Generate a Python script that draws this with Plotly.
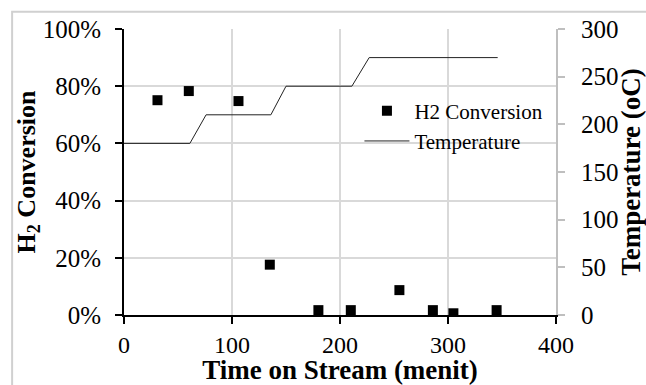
import plotly.graph_objects as go

# Data
conv_time = [31, 60, 106, 135, 180, 210, 255, 286, 305, 345]
conv_vals = [0.751, 0.783, 0.748, 0.176, 0.017, 0.017, 0.087, 0.017, 0.006, 0.017]
temp_time = [0, 61, 76, 136, 150, 211, 227, 346]
temp_vals = [180, 180, 210, 210, 240, 240, 270, 270]

FONT = "Liberation Serif"

fig = go.Figure()
fig.add_trace(go.Scatter(
    x=conv_time, y=conv_vals, mode="markers", name="H2 Conversion",
    marker=dict(symbol="square", size=10, color="black"),
))
fig.add_trace(go.Scatter(
    x=temp_time, y=temp_vals, mode="lines", name="Temperature",
    line=dict(color="#222222", width=1), yaxis="y2",
))

fig.update_layout(
    width=646, height=385,
    margin=dict(l=124, r=90, t=29, b=70, autoexpand=False),
    paper_bgcolor="white", plot_bgcolor="white",
    font=dict(family=FONT, size=25, color="black"),
    showlegend=True,
    legend=dict(x=0.545, y=0.785, xanchor="left", yanchor="top",
                bgcolor="rgba(0,0,0,0)", font=dict(size=21, family=FONT),
                tracegroupgap=0, itemwidth=45),
    xaxis=dict(range=[0, 400], dtick=100, showgrid=True, gridcolor="#d9d9d9",
               gridwidth=2, zeroline=False, showline=True, linecolor="black",
               linewidth=2, ticks="outside", tickcolor="black", ticklen=7,
               tickwidth=2, automargin=False, ticklabelstandoff=0,
               tickfont=dict(size=24),
               title=dict(text="<b>Time on Stream (menit)</b>", standoff=1,
                          font=dict(size=27, family=FONT))),
    yaxis=dict(range=[0, 1], dtick=0.2, tickformat=".0%", showgrid=True,
               gridcolor="#d9d9d9", gridwidth=2, zeroline=False,
               showline=True, linecolor="black", linewidth=2,
               ticks="outside", tickcolor="black", ticklen=7, tickwidth=2,
               automargin=False, ticklabelstandoff=9,
               title=dict(text="<b>H<sub>2</sub> Conversion</b>", standoff=0,
                          font=dict(size=26, family=FONT))),
    yaxis2=dict(range=[0, 300], dtick=50, overlaying="y", side="right",
                showgrid=False, zeroline=False, showline=True,
                linecolor="#bfbfbf", linewidth=2, ticks="outside",
                tickcolor="#bfbfbf", ticklen=7, tickwidth=2,
                automargin=False, ticklabelstandoff=11,
                title=dict(text="<b>Temperature (oC)</b>", standoff=0,
                           font=dict(size=27, family=FONT))),
    shapes=[dict(type="rect", xref="paper", yref="paper",
                 x0=-0.259, x1=1.25, y0=-0.3, y1=1.06,
                 line=dict(color="#d0d0d0", width=2), layer="below")],
)

fig.write_html("out.html", config={"displayModeBar": False},
               post_script="document.body.style.margin='0px';document.body.style.overflow='hidden';")
